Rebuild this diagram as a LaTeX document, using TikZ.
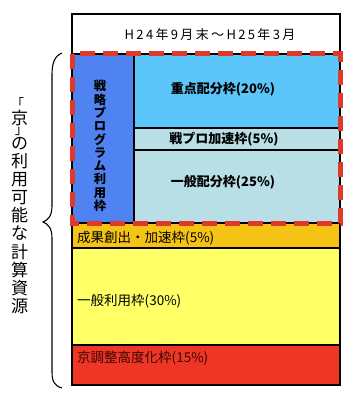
\documentclass[tikz,border=0pt]{standalone}
\usepackage{fontspec}
\setmainfont{Noto Sans CJK JP}
\newfontfamily\spaced[LetterSpace=18]{Noto Sans CJK JP}
\definecolor{bluecol}{HTML}{5083F2}
\definecolor{skyb}{HTML}{5CC6FA}
\definecolor{grayc}{HTML}{B8DEE6}
\definecolor{orangec}{HTML}{F5C316}
\definecolor{yellowc}{HTML}{FFFF66}
\definecolor{redc}{HTML}{EE3526}
\definecolor{dashred}{HTML}{E0392A}
\definecolor{darkred}{HTML}{3A0800}
\begin{document}
\begin{tikzpicture}[x=1pt,y=-1pt,
  rule/.style={draw=black,line width=1.1pt},
  frame/.style={draw=black,line width=1.6pt},
  redframe/.style={draw=dashred,line width=5pt,dash pattern=on 15pt off 8pt},
  lbl/.style={inner sep=0pt,font=\fontsize{13.5}{16}\selectfont},
  blbl/.style={inner sep=0pt,font=\bfseries\fontsize{13}{16}\selectfont},
  vlbl/.style={inner sep=0pt,align=center,font=\bfseries\fontsize{12.3}{13.3}\selectfont},
  side/.style={inner sep=0pt,align=center,font=\fontsize{17}{18.1}\selectfont},
  bracket/.style={inner sep=0pt,font=\fontsize{13}{14}\selectfont},
  brace/.style={draw=black,line width=1.1pt}]
\useasboundingbox (0,0) rectangle (359,398);
\fill[white] (0,0) rectangle (359,398);
% fills
\fill[bluecol] (72,54) rectangle (134,223);
\fill[skyb] (134,54) rectangle (340,128);
\fill[grayc] (134,128) rectangle (340,223);
\fill[orangec] (72,223) rectangle (340,248);
\fill[yellowc] (72,248) rectangle (340,345);
\fill[redc] (72,345) rectangle (340,385);
% rules
\draw[rule] (72,54) -- (340,54);
\draw[rule] (134,54) -- (134,223);
\draw[rule] (134,128) -- (340,128);
\draw[rule] (134,150) -- (340,150);
\draw[rule] (72,223) -- (340,223);
\draw[rule] (72,248) -- (340,248);
\draw[rule] (72,345) -- (340,345);
\draw[frame] (72,14) rectangle (340,385);
\draw[redframe] (72,54) rectangle (340,223);
% texts
\node[inner sep=0pt,font=\spaced\fontsize{13}{15}\selectfont] (title) at (210,35) {H24年9月末～H25年3月};
\node[blbl] (jp) at (223,89) {重点配分枠(20\%)};
\node[blbl] (sp) at (224,139) {戦プロ加速枠(5\%)};
\node[blbl] (gh) at (223,182) {一般配分枠(25\%)};
\node[lbl,anchor=west] (sk) at (77,238) {成果創出・加速枠(5\%)};
\node[lbl,anchor=west] (gr) at (77,301) {一般利用枠(30\%)};
\node[lbl,anchor=west,text=darkred] (kc) at (77,358) {京調整高度化枠(15\%)};
\node[vlbl] (senryaku) at (100,146) {戦\\略\\プ\\ロ\\グ\\ラ\\ム\\利\\用\\枠};
% left side label
\node[bracket,anchor=north west] (lb) at (11,97) {「};
\node[side] (kyo) at (19.5,118) {京};
\node[bracket,anchor=south east] (rb) at (28,136) {」};
\node[side,anchor=north] (rest) at (19.5,137) {の\\利\\用\\可\\能\\な\\計\\算\\資\\源};
% brace
\draw[brace] (62,53) .. controls (55,56) and (52,62) .. (52,75) -- (52,206)
  .. controls (52,216) and (48,220) .. (43,222)
  .. controls (48,224) and (52,228) .. (52,238) -- (52,372)
  .. controls (52,382) and (55,386) .. (62,388);
\end{tikzpicture}
\end{document}
